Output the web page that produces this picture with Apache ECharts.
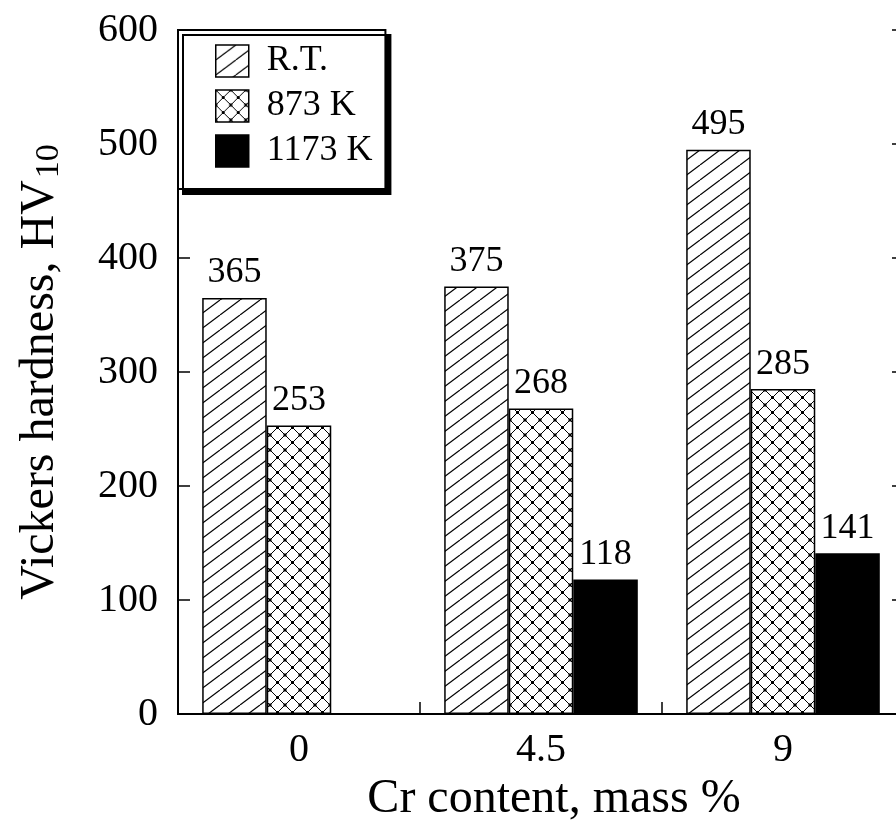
<!DOCTYPE html>
<html>
<head>
<meta charset="utf-8">
<script src="https://cdn.jsdelivr.net/npm/echarts@6/dist/echarts.min.js"></script>
<style>html,body{margin:0;padding:0;background:#fff}#c{width:896px;height:825px}</style>
</head>
<body>
<div id="c"></div>
<script>
const categories = ['0', '4.5', '9'];
const seriesNames = ['R.T.', '873 K', '1173 K'];
const rtValues = [365, 375, 495];
const k873Values = [253, 268, 285];
const k1173Values = ['-', 118, 141];
const yTicks = { min: 0, max: 600, interval: 100 };

function hatchPattern() {
  const w = 20, h = 15;
  const c = document.createElement('canvas');
  c.width = w; c.height = h;
  const g = c.getContext('2d');
  g.fillStyle = '#fff'; g.fillRect(0, 0, w, h);
  g.strokeStyle = '#000'; g.lineWidth = 1.2;
  for (const dx of [-w, 0, w]) {
    g.beginPath(); g.moveTo(dx, h); g.lineTo(dx + w, 0); g.stroke();
  }
  return c;
}
function crossPattern() {
  const s = 15;
  const c = document.createElement('canvas');
  c.width = s; c.height = s;
  const g = c.getContext('2d');
  g.fillStyle = '#fff'; g.fillRect(0, 0, s, s);
  g.strokeStyle = '#000'; g.lineWidth = 1;
  g.beginPath(); g.moveTo(0, 0); g.lineTo(s, s); g.stroke();
  g.beginPath(); g.moveTo(0, s); g.lineTo(s, 0); g.stroke();
  g.fillStyle = '#000';
  const d = 3;
  for (const [x, y] of [[0, 0], [s, 0], [0, s], [s, s], [s / 2, s / 2]]) {
    g.fillRect(x - d / 2, y - d / 2, d, d);
  }
  return c;
}

const font = 'Liberation Serif';
const chart = echarts.init(document.getElementById('c'), null, { renderer: 'canvas' });
const labelCfg = { show: true, position: 'top', distance: 7, color: '#000', fontFamily: font, fontSize: 36 };
const barStyle = (color) => ({ color, borderColor: '#000', borderWidth: 1.5 });

chart.setOption({
  backgroundColor: '#fff',
  animation: false,
  grid: { left: 178, top: 30, width: 726, bottom: 111, outerBoundsMode: 'none', containLabel: false },
  legend: {
    orient: 'vertical', left: 178, top: 30,
    icon: 'rect', itemWidth: 33, itemHeight: 32, itemGap: 9,
    padding: [13, 13, 20, 37],
    backgroundColor: '#fff', borderColor: '#000', borderWidth: 2,
    shadowColor: '#000', shadowBlur: 0, shadowOffsetX: 5, shadowOffsetY: 5,
    itemStyle: { borderColor: '#000', borderWidth: 1.5 },
    textStyle: { fontFamily: font, fontSize: 36, color: '#000', lineHeight: 32, padding: [0, 0, 0, 13] },
    data: seriesNames
  },
  xAxis: [{
    type: 'category', data: categories, position: 'bottom',
    axisLine: { lineStyle: { color: '#000', width: 2 } },
    axisTick: { show: true, inside: true, length: 12, alignWithLabel: false, lineStyle: { color: '#000', width: 1.5 } },
    axisLabel: { fontFamily: font, fontSize: 40, color: '#000', margin: 16 },
    name: 'Cr content, mass %', nameLocation: 'middle', nameGap: 56,
    nameTextStyle: { fontFamily: font, fontSize: 48, color: '#000', padding: [0, 0, 0, 26] }
  }, {
    type: 'category', data: categories, position: 'top',
    axisLine: { lineStyle: { color: '#000', width: 2 } },
    axisTick: { show: false }, axisLabel: { show: false }
  }],
  yAxis: [{
    type: 'value', min: yTicks.min, max: yTicks.max, interval: yTicks.interval, position: 'left',
    splitLine: { show: false },
    axisLine: { show: true, lineStyle: { color: '#000', width: 2 } },
    axisTick: { show: true, inside: true, length: 12, lineStyle: { color: '#000', width: 1.5 } },
    axisLabel: { fontFamily: font, fontSize: 40, color: '#000', margin: 20 },
    name: '{a|Vickers hardness, HV}{s|10}', nameLocation: 'middle', nameGap: 112,
    nameTextStyle: {
      fontFamily: font, fontSize: 48, color: '#000',
      rich: {
        a: { fontFamily: font, fontSize: 48, color: '#000', lineHeight: 52 },
        s: { fontFamily: font, fontSize: 34, color: '#000', verticalAlign: 'bottom', padding: [14, 0, 0, 2], lineHeight: 52 }
      }
    }
  }, {
    type: 'value', min: yTicks.min, max: yTicks.max, interval: yTicks.interval, position: 'right',
    splitLine: { show: false },
    axisLine: { show: true, lineStyle: { color: '#000', width: 2 } },
    axisTick: { show: true, inside: true, length: 12, lineStyle: { color: '#000', width: 1.5 } },
    axisLabel: { show: false }
  }],
  series: [
    { name: seriesNames[0], type: 'bar', data: rtValues, barGap: 0, barCategoryGap: '20%',
      itemStyle: barStyle({ image: hatchPattern(), repeat: 'repeat' }), label: labelCfg },
    { name: seriesNames[1], type: 'bar', data: k873Values, barGap: 0, barCategoryGap: '20%',
      itemStyle: barStyle({ image: crossPattern(), repeat: 'repeat' }), label: labelCfg },
    { name: seriesNames[2], type: 'bar', data: k1173Values, barGap: 0, barCategoryGap: '20%',
      itemStyle: barStyle('#000'), label: labelCfg }
  ]
});
</script>
</body>
</html>
